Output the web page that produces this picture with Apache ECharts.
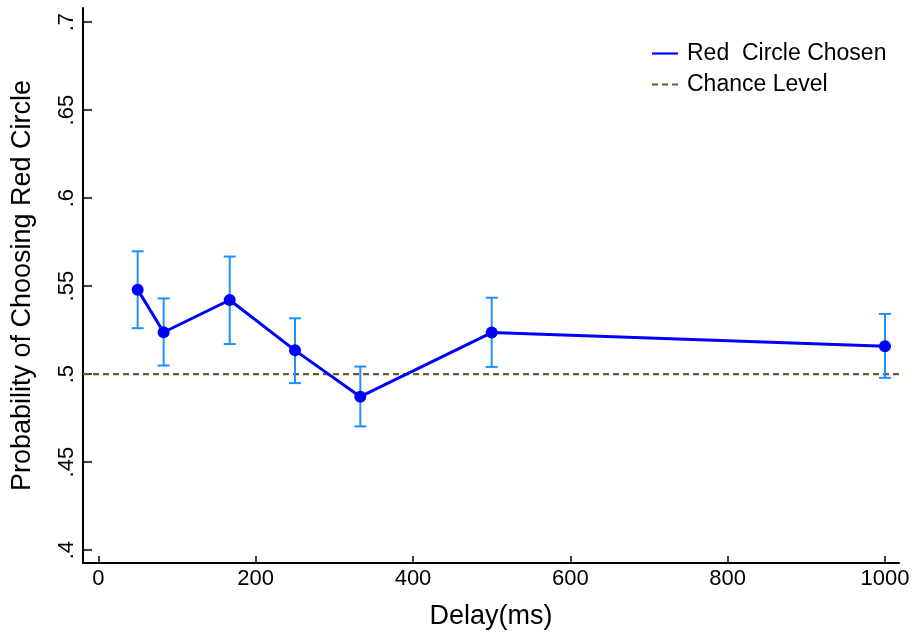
<!DOCTYPE html>
<html>
<head>
<meta charset="utf-8">
<script src="https://cdn.jsdelivr.net/npm/echarts@6/dist/echarts.min.js"></script>
<style>html,body{margin:0;padding:0;background:#fff;}#c{width:914px;height:635px;}</style>
</head>
<body>
<div id="c"></div>
<script>
var delays = [50, 83, 167, 250, 333, 500, 1000];
var probs = [0.548, 0.5238, 0.5421, 0.5135, 0.4872, 0.5236, 0.5158];
var errHigh = [0.5698, 0.5430, 0.5668, 0.5317, 0.5043, 0.5434, 0.5342];
var errLow = [0.5261, 0.5049, 0.5171, 0.4949, 0.4703, 0.5041, 0.4979];
var chanceLevel = 0.5;
var xTicks = [0, 200, 400, 600, 800, 1000];
var yTicks = [0.4, 0.45, 0.5, 0.55, 0.6, 0.65, 0.7];
var yTickLabels = ['.4', '.45', '.5', '.55', '.6', '.65', '.7'];

var xMin = -19.5, xMax = 1017.8, yMin = 0.3927, yMax = 0.708;
var font = '"Liberation Sans", Arial, sans-serif';

var chart = echarts.init(document.getElementById('c'));
chart.setOption({
  animation: false,
  backgroundColor: '#fff',
  grid: {left: 83, right: 15, top: 8, bottom: 67, containLabel: false},
  legend: {
    left: 652, top: 42, orient: 'vertical', itemGap: 8,
    itemWidth: 26, itemHeight: 2.2, padding: 0,
    textStyle: {fontFamily: font, fontSize: 23, color: '#000', padding: [0, 0, 0, 4]},
    data: [
      {name: 'Red  Circle Chosen', icon: 'rect'},
      {name: 'Chance Level', icon: 'path://M0,0h6v2h-6z M10,0h6v2h-6z M20,0h6v2h-6z'}
    ]
  },
  xAxis: {
    type: 'value', min: xMin, max: xMax,
    name: 'Delay(ms)', nameLocation: 'middle', nameGap: 40,
    nameTextStyle: {fontFamily: font, fontSize: 27, color: '#000'},
    axisLine: {show: true, onZero: false, lineStyle: {color: '#000', width: 2}},
    axisTick: {show: true, inside: true, length: 7, lineStyle: {color: '#000', width: 1.5}, customValues: xTicks},
    axisLabel: {fontFamily: font, fontSize: 22, color: '#000', margin: 5, customValues: xTicks,
      formatter: function (v) { return String(Math.round(v)); }},
    splitLine: {show: false}
  },
  yAxis: {
    type: 'value', min: yMin, max: yMax,
    name: 'Probability of Choosing Red Circle', nameLocation: 'middle', nameGap: 47,
    nameTextStyle: {fontFamily: font, fontSize: 27, color: '#000'},
    axisLine: {show: true, onZero: false, lineStyle: {color: '#000', width: 2}},
    axisTick: {show: true, inside: true, length: 9, lineStyle: {color: '#000', width: 1.5}, customValues: yTicks},
    axisLabel: {
      fontFamily: font, fontSize: 22, color: '#000', margin: 5, rotate: 90,
      customValues: yTicks,
      formatter: function (v) {
        for (var i = 0; i < yTicks.length; i++) { if (Math.abs(yTicks[i] - v) < 1e-6) return yTickLabels[i]; }
        return '';
      }
    },
    splitLine: {show: false}
  },
  series: [
    {
      name: 'Chance Level', type: 'line', symbol: 'none',
      data: [[xMin, chanceLevel], [xMax, chanceLevel]],
      lineStyle: {color: '#6b5a2e', width: 2.2, type: [6, 4]},
      itemStyle: {color: '#6b5a2e'},
      z: 1, silent: true
    },
    {
      name: 'errorbars', type: 'custom',
      data: delays.map(function (d, i) { return [d, errLow[i], errHigh[i]]; }),
      renderItem: function (params, api) {
        var lo = api.coord([api.value(0), api.value(1)]);
        var hi = api.coord([api.value(0), api.value(2)]);
        var cw = 6;
        var st = {stroke: '#1e90ff', lineWidth: 2};
        return {
          type: 'group',
          children: [
            {type: 'line', shape: {x1: lo[0], y1: lo[1], x2: hi[0], y2: hi[1]}, style: st},
            {type: 'line', shape: {x1: hi[0] - cw, y1: hi[1], x2: hi[0] + cw, y2: hi[1]}, style: st},
            {type: 'line', shape: {x1: lo[0] - cw, y1: lo[1], x2: lo[0] + cw, y2: lo[1]}, style: st}
          ]
        };
      },
      z: 2, silent: true
    },
    {
      name: 'Red  Circle Chosen', type: 'line', symbol: 'none',
      data: delays.map(function (d, i) { return [d, probs[i]]; }),
      lineStyle: {color: '#0000ff', width: 3},
      itemStyle: {color: '#0000ff'},
      z: 3
    },
    {
      name: 'markers', type: 'scatter', symbol: 'circle', symbolSize: 12,
      data: delays.map(function (d, i) { return [d, probs[i]]; }),
      itemStyle: {color: '#0000ff', opacity: 1},
      z: 4
    }
  ]
});
</script>
</body>
</html>
